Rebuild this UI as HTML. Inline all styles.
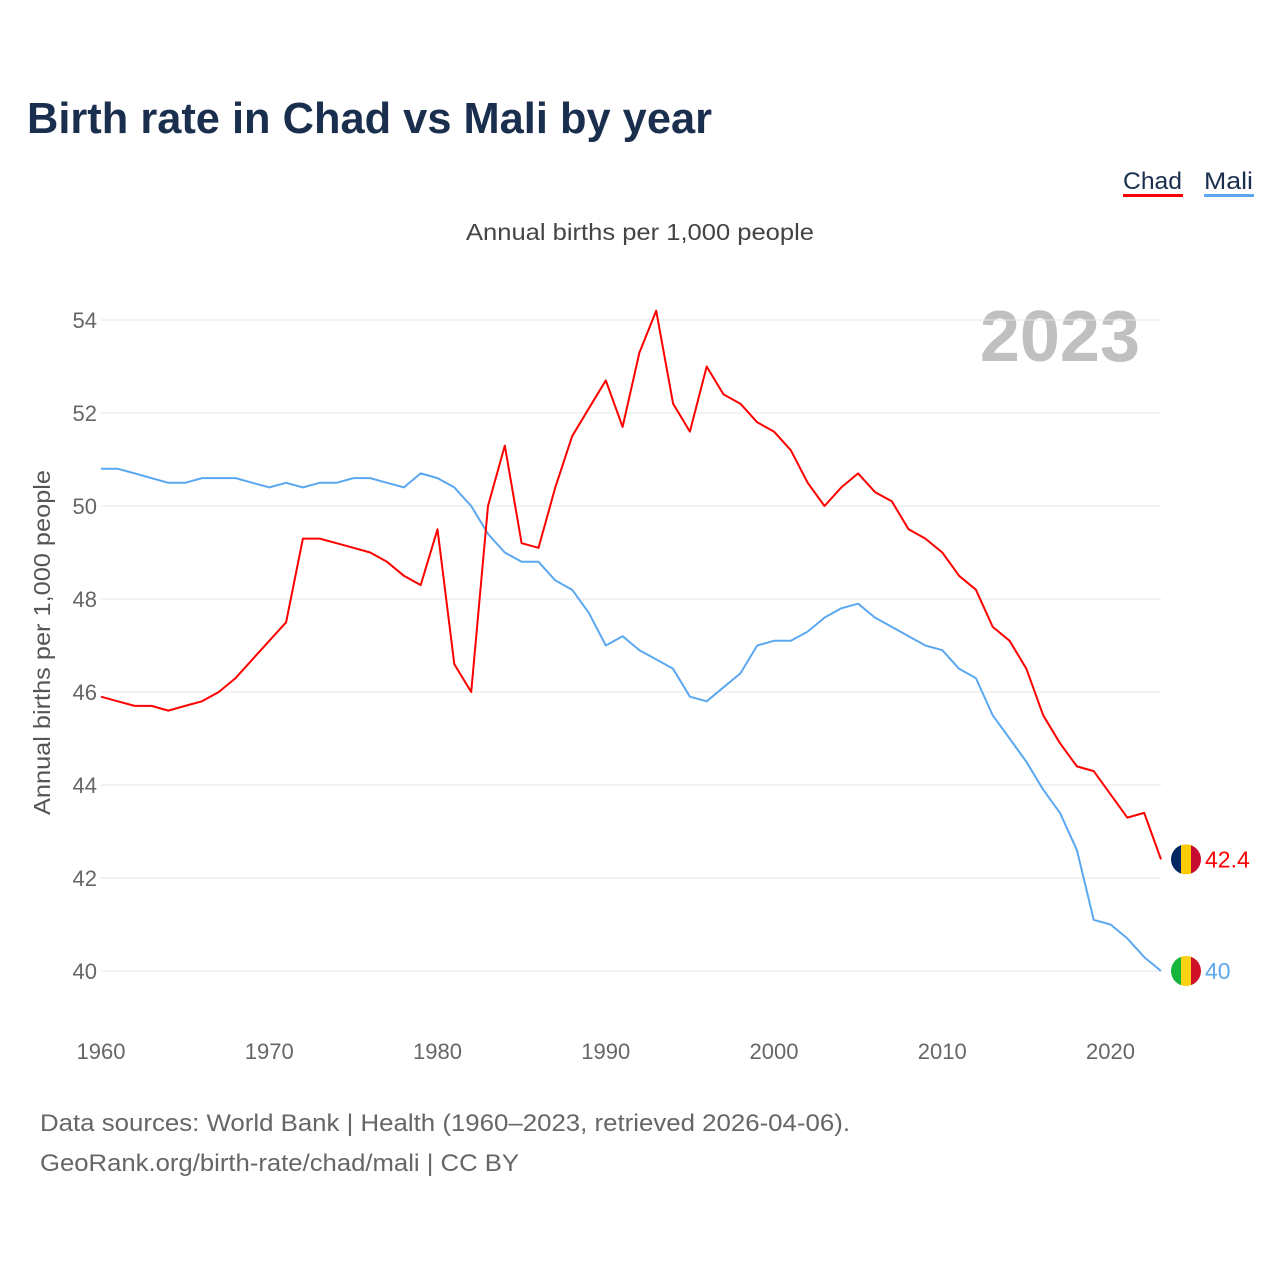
<!DOCTYPE html>
<html><head><meta charset="utf-8">
<style>
body{margin:0;background:#fff;font-family:"Liberation Sans",sans-serif;}
#wrap{position:relative;width:1280px;height:1280px;overflow:hidden;}
</style></head>
<body>
<div id="wrap">
<svg id="chart" width="1280" height="1280" xmlns="http://www.w3.org/2000/svg">
<text x="27" y="133" font-size="44" font-weight="bold" fill="#1a2e4d" textLength="685" lengthAdjust="spacingAndGlyphs">Birth rate in Chad vs Mali by year</text>
<g>
<text x="1123" y="189" font-size="24" fill="#1a2e4d" textLength="59" lengthAdjust="spacingAndGlyphs">Chad</text>
<rect x="1123" y="194" width="60" height="3" fill="#ff0000"/>
<text x="1204" y="189" font-size="24" fill="#1a2e4d" textLength="49" lengthAdjust="spacingAndGlyphs">Mali</text>
<rect x="1204" y="194" width="50" height="3" fill="#5ba8f0"/>
</g>
<text x="466" y="240" font-size="23" fill="#444" textLength="348" lengthAdjust="spacingAndGlyphs">Annual births per 1,000 people</text>
<text x="1140" y="361" font-size="72" font-weight="bold" fill="#c0c0c0" text-anchor="end">2023</text>
<text transform="translate(50,815) rotate(-90)" font-size="23" fill="#555" textLength="345" lengthAdjust="spacingAndGlyphs">Annual births per 1,000 people</text>
<g id="grid"></g><g id="series"></g><g id="ends"></g>
<text x="40" y="1131" font-size="24" fill="#666" textLength="810" lengthAdjust="spacingAndGlyphs">Data sources: World Bank | Health (1960–2023, retrieved 2026-04-06).</text>
<text x="40" y="1171" font-size="24" fill="#666" textLength="479" lengthAdjust="spacingAndGlyphs">GeoRank.org/birth-rate/chad/mali | CC BY</text>
</svg>
</div>
<script>
const years = []; for (let y = 1960; y <= 2023; y++) years.push(y);
const chad = [45.9,45.8,45.7,45.7,45.6,45.7,45.8,46.0,46.3,46.7,47.1,47.5,49.3,49.3,49.2,49.1,49.0,48.8,48.5,48.3,49.5,46.6,46.0,50.0,51.3,49.2,49.1,50.4,51.5,52.1,52.7,51.7,53.3,54.2,52.2,51.6,53.0,52.4,52.2,51.8,51.6,51.2,50.5,50.0,50.4,50.7,50.3,50.1,49.5,49.3,49.0,48.5,48.2,47.4,47.1,46.5,45.5,44.9,44.4,44.3,43.8,43.3,43.4,42.4];
const mali = [50.8,50.8,50.7,50.6,50.5,50.5,50.6,50.6,50.6,50.5,50.4,50.5,50.4,50.5,50.5,50.6,50.6,50.5,50.4,50.7,50.6,50.4,50.0,49.4,49.0,48.8,48.8,48.4,48.2,47.7,47.0,47.2,46.9,46.7,46.5,45.9,45.8,46.1,46.4,47.0,47.1,47.1,47.3,47.6,47.8,47.9,47.6,47.4,47.2,47.0,46.9,46.5,46.3,45.5,45.0,44.5,43.9,43.4,42.6,41.1,41.0,40.7,40.3,40.0];
const yTicks = [40,42,44,46,48,50,52,54];
const xTicks = [1960,1970,1980,1990,2000,2010,2020];
const NS = "http://www.w3.org/2000/svg";
const xS = v => 101 + (v - 1960) * (1161 - 101) / 63;
const yS = v => 971 - (v - 40) * (971 - 320) / 14;
function mk(tag, attrs, parent){const e=document.createElementNS(NS,tag);for(const k in attrs)e.setAttribute(k,attrs[k]);parent.appendChild(e);return e;}
const grid=document.getElementById('grid');
yTicks.forEach(t=>{
  const l=mk('line',{x1:101,x2:1161,y1:yS(t),y2:yS(t),stroke:'#e6e6e6','stroke-width':1},grid);
  
  
  const tx=mk('text',{x:97,y:yS(t)+8,'font-size':22,fill:'#666','text-anchor':'end'},grid);
  tx.textContent=t;
  
  
});
xTicks.forEach(t=>{
  const tx=mk('text',{x:xS(t),y:1059,'font-size':22,fill:'#666','text-anchor':'middle'},grid);
  tx.textContent=t;
  
  
});
const ser=document.getElementById('series');
function line(vals,color,name){
  const d=vals.map((v,i)=>(i?'L':'M')+xS(years[i]).toFixed(1)+' '+yS(v).toFixed(1)).join(' ');
  const p=mk('path',{d:d,fill:'none',stroke:color,'stroke-width':2,'stroke-linejoin':'round'},ser);
  
  
}
line(mali,'#5ba8f0','line-mali');
line(chad,'#ff0000','line-chad');
const ends=document.getElementById('ends');
function flag(val,colors,txtColor,name){
  const cy=yS(val), cx=1186, r=15;
  const g=mk('g',{},ends);
  
  
  const cid='c'+name;
  const cp=mk('clipPath',{id:cid},g); mk('circle',{cx:cx,cy:cy,r:r},cp);
  colors.forEach((c,i)=>mk('rect',{x:cx-r+i*(2*r/3),y:cy-r,width:2*r/3+0.5,height:2*r,fill:c,'clip-path':'url(#'+cid+')'},g));
  const t=mk('text',{x:1205,y:cy+8,'font-size':23,fill:txtColor},ends);
  t.textContent=val;
  
  
}
flag(chad[chad.length-1],['#002664','#fecb00','#c60c30'],'#ff0000','chad');
flag(mali[mali.length-1],['#14b53a','#fcd116','#ce1126'],'#5ba8f0','mali');
</script>
</body></html>
